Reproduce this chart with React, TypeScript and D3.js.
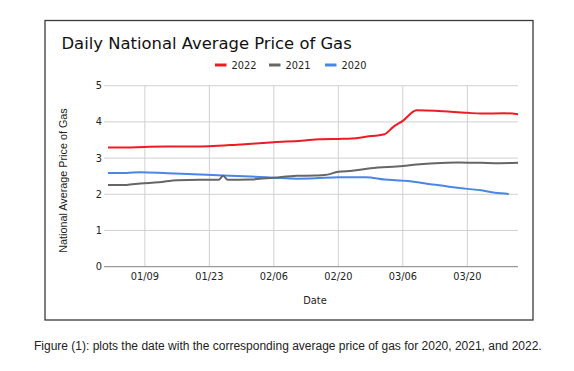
import React from 'react';
import * as d3 from 'd3';

// 2022 (red)
const days2022 = ['01/01', '01/05', '01/09', '01/16', '01/23', '01/29', '02/06', '02/12', '02/16', '02/20', '02/23', '02/26', '03/02', '03/04', '03/06', '03/09', '03/13', '03/20', '03/23', '03/28', '03/31'];
const price2022 = [3.29, 3.29, 3.31, 3.32, 3.33, 3.37, 3.44, 3.48, 3.52, 3.53, 3.54, 3.59, 3.66, 3.87, 4.03, 4.32, 4.31, 4.25, 4.23, 4.24, 4.21];

// 2021 (gray)
const days2021 = ['01/01', '01/05', '01/08', '01/12', '01/16', '01/21', '01/25', '01/26', '01/27', '02/01', '02/06', '02/11', '02/15', '02/17', '02/20', '02/23', '02/27', '03/06', '03/09', '03/13', '03/18', '03/23', '03/27', '03/31'];
const price2021 = [2.26, 2.26, 2.30, 2.33, 2.39, 2.40, 2.40, 2.51, 2.40, 2.41, 2.46, 2.51, 2.52, 2.53, 2.62, 2.65, 2.72, 2.78, 2.82, 2.86, 2.88, 2.87, 2.86, 2.87];

// 2020 (blue)
const days2020 = ['01/01', '01/05', '01/08', '01/14', '01/21', '01/26', '02/01', '02/06', '02/11', '02/15', '02/20', '02/26', '03/02', '03/07', '03/12', '03/16', '03/20', '03/23', '03/26', '03/29'];
const price2020 = [2.59, 2.59, 2.61, 2.58, 2.55, 2.52, 2.49, 2.46, 2.43, 2.44, 2.47, 2.47, 2.41, 2.37, 2.28, 2.21, 2.15, 2.11, 2.04, 2.01];

const xTickLabels = ['01/09', '01/23', '02/06', '02/20', '03/06', '03/20'];
const yTicks = [0, 1, 2, 3, 4, 5];

const parse = (md: string) => d3.timeParse('%Y/%m/%d')('2022/' + md) as Date;

const series = [
  { name: '2022', color: '#ec1c24', days: days2022, values: price2022 },
  { name: '2021', color: '#666666', days: days2021, values: price2021 },
  { name: '2020', color: '#4a86e8', days: days2020, values: price2020 },
];

const App: React.FC = () => {
  const width = 574;
  const height = 371;

  const x = d3.scaleTime()
    .domain([parse('01/01'), parse('03/31')])
    .range([108, 518]);
  const y = d3.scaleLinear().domain([0, 5]).range([266.7, 85.7]);

  const line = d3.line<[Date, number]>()
    .x(d => x(d[0]))
    .y(d => y(d[1]))
    .curve(d3.curveMonotoneX);

  const tickFont = "'DejaVu Sans', Verdana, sans-serif";
  const arial = "'Liberation Sans', Arial, sans-serif";

  // legend layout
  const legendX = [215, 269, 325];

  return (
    <svg width={width} height={height} style={{ position: 'absolute', left: 0, top: 0, background: '#fff' }}>
      <rect x={0} y={0} width={width} height={height} fill="#fff" />
      <rect x={45} y={20.5} width={488} height={299.5} fill="#fff" stroke="#3a3a3a" strokeWidth={1.3} />

      <text x={61.5} y={49} fontFamily={tickFont} fontSize={16.4} fill="#111">
        Daily National Average Price of Gas
      </text>

      {/* legend */}
      {series.map((s, i) => (
        <g key={s.name}>
          <line x1={legendX[i]} x2={legendX[i] + 11.5} y1={65} y2={65} stroke={s.color} strokeWidth={3} />
          <text x={legendX[i] + 16.5} y={68.5} fontFamily={tickFont} fontSize={9.8} fill="#222">{s.name}</text>
        </g>
      ))}

      {/* grid */}
      {yTicks.filter(t => t > 0).map(t => (
        <line key={'h' + t} x1={104} x2={518} y1={y(t)} y2={y(t)} stroke="#d0d0d0" strokeWidth={1} />
      ))}
      {xTickLabels.map(t => (
        <line key={'v' + t} x1={x(parse(t))} x2={x(parse(t))} y1={y(5)} y2={y(0)} stroke="#d0d0d0" strokeWidth={1} />
      ))}
      <line x1={104} x2={518} y1={y(0)} y2={y(0)} stroke="#9a9a9a" strokeWidth={1.3} />

      {yTicks.map(t => (
        <text key={'yl' + t} x={102} y={y(t) + 3.5} textAnchor="end" fontFamily={tickFont} fontSize={9.8} fill="#222">{t}</text>
      ))}
      {xTickLabels.map(t => (
        <text key={'xl' + t} x={x(parse(t))} y={279.5} textAnchor="middle" fontFamily={tickFont} fontSize={9.8} fill="#222">{t}</text>
      ))}

      {/* lines */}
      {series.slice().reverse().map(s => (
        <path
          key={'p' + s.name}
          d={line(s.days.map((d, i) => [parse(d), s.values[i]] as [Date, number])) || ''}
          fill="none"
          stroke={s.color}
          strokeWidth={2}
        />
      ))}

      <text x={315} y={303.5} textAnchor="middle" fontFamily={tickFont} fontSize={9.8} fill="#222">Date</text>
      <text transform="translate(66.5,180.5) rotate(-90)" textAnchor="middle" fontFamily={arial} fontSize={10.8} fill="#222">
        National Average Price of Gas
      </text>

      <text x={34} y={350} fontFamily={arial} fontSize={12} fill="#222">
        Figure (1): plots the date with the corresponding average price of gas for 2020, 2021, and 2022.
      </text>
    </svg>
  );
};

export default App;
